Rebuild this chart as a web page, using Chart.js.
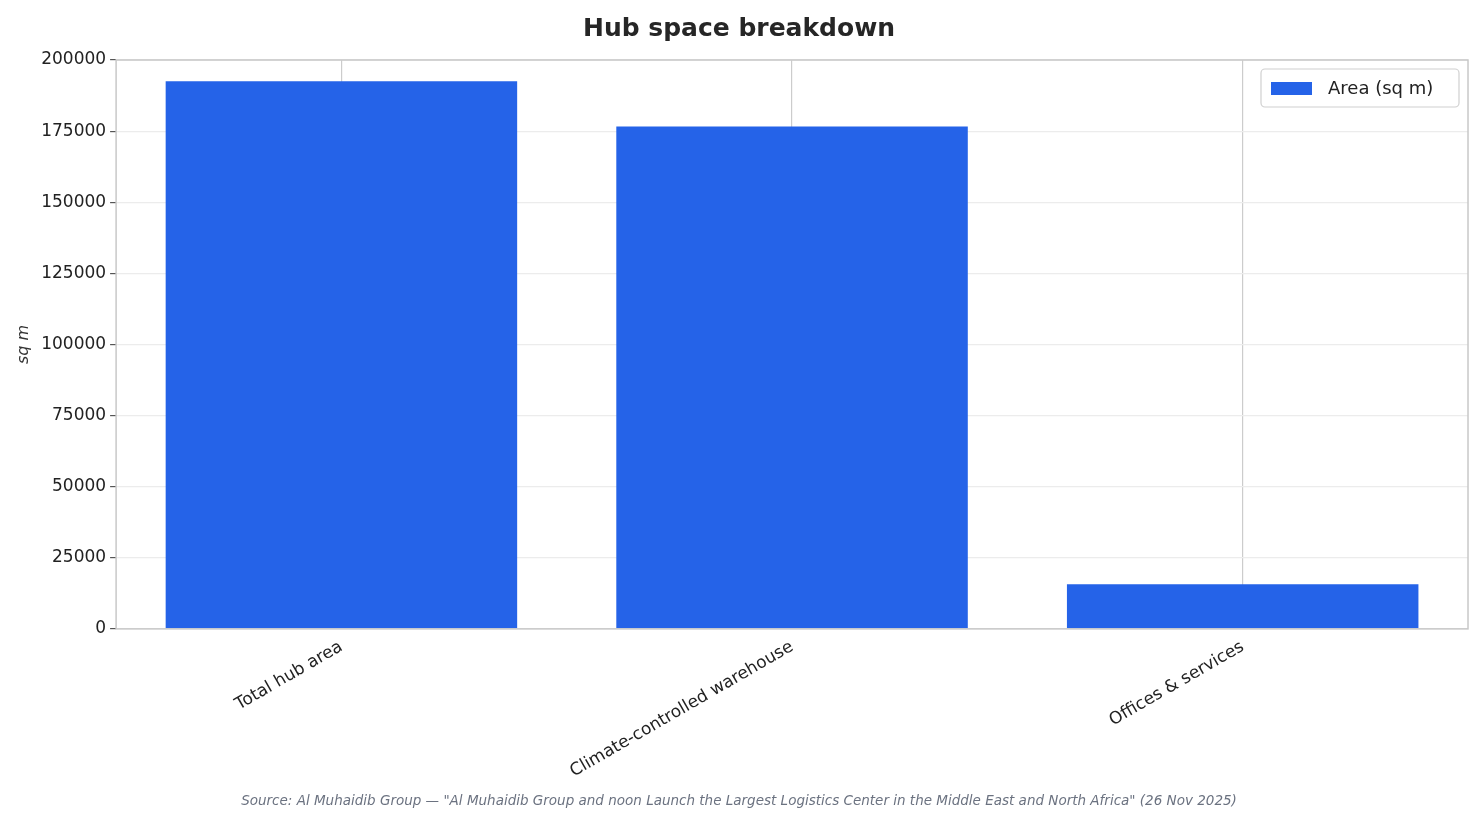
<!DOCTYPE html>
<html>
<head>
<meta charset="utf-8">
<script src="https://cdn.jsdelivr.net/npm/chart.js@4"></script>
<style>
  html, body { margin: 0; padding: 0; background: #fff; }
  #wrap { width: 1482px; height: 824px; }
</style>
</head>
<body>
<div id="wrap"><canvas id="myChart"></canvas></div>
<script>
const categories = ["Total hub area", "Climate-controlled warehouse", "Offices & services"];
const areaValues = [192500, 176600, 15700];
const yTicks = [0, 25000, 50000, 75000, 100000, 125000, 150000, 175000, 200000];
const seriesName = "Area (sq m)";
const sourceText = 'Source: Al Muhaidib Group — "Al Muhaidib Group and noon Launch the Largest Logistics Center in the Middle East and North Africa" (26 Nov 2025)';

const FONT = "'DejaVu Sans', sans-serif";
const BLUE = "#2563e8";

// draws the plot frame and the boxed legend inside the plot area
const framePlugin = {
    id: "frame",
    afterDraw(chart) {
        const ctx = chart.ctx;
        const a = chart.chartArea;
        ctx.save();
        ctx.strokeStyle = "#c8c8c8";
        ctx.lineWidth = 1.5;
        ctx.strokeRect(a.left, a.top, a.right - a.left, a.bottom - a.top);

        const w = 198, h = 38;
        const x = a.right - w - 9, y = a.top + 9;
        ctx.fillStyle = "rgba(255,255,255,0.9)";
        ctx.strokeStyle = "#d0d0d0";
        ctx.lineWidth = 1.2;
        ctx.beginPath();
        ctx.roundRect(x, y, w, h, 4);
        ctx.fill();
        ctx.stroke();
        ctx.fillStyle = BLUE;
        ctx.fillRect(x + 10, y + 13, 41, 13);
        ctx.fillStyle = "#222";
        ctx.font = "18px " + FONT;
        ctx.textBaseline = "middle";
        ctx.fillText(seriesName, x + 67, y + 20);
        ctx.restore();
    }
};

const config = {
    type: "bar",
    data: {
        labels: categories,
        datasets: [{
            label: seriesName,
            data: areaValues,
            backgroundColor: BLUE,
            barPercentage: 0.78,
            categoryPercentage: 1.0,
        }],
    },
    options: {
        responsive: true,
        maintainAspectRatio: false,
        animation: false,
        layout: { padding: { left: 10, right: 14, top: 4, bottom: 6 } },
        plugins: {
            legend: { display: false },
            title: {
                display: true,
                text: "Hub space breakdown",
                color: "#262626",
                font: { family: FONT, size: 25, weight: "bold" },
                padding: { top: 10, bottom: 16 },
            },
            subtitle: {
                display: true,
                position: "bottom",
                text: sourceText,
                color: "#6b7280",
                font: { family: FONT, size: 13.5, style: "italic" },
                padding: { top: 4, bottom: 8 },
            },
        },
        scales: {
            x: {
                grid: { display: true, color: "#cccccc", lineWidth: 1.2, offset: false, drawTicks: false },
                border: { display: false },
                ticks: {
                    color: "#222",
                    font: { family: FONT, size: 17 },
                    maxRotation: 30,
                    minRotation: 30,
                    padding: 8,
                },
            },
            y: {
                min: 0,
                max: 200000,
                afterBuildTicks: function(axis) {
                    axis.ticks = yTicks.map(function(v) { return { value: v }; });
                },
                grid: { color: "#ececec", lineWidth: 1.2, drawTicks: true, tickLength: 6, tickColor: "#555" },
                border: { display: false },
                ticks: {
                    color: "#222",
                    font: { family: FONT, size: 17 },
                    padding: 4,
                    callback: function(v) { return String(v); },
                },
                title: {
                    display: true,
                    text: "sq m",
                    color: "#333",
                    font: { family: FONT, size: 16, style: "italic" },
                },
            },
        },
    },
    plugins: [framePlugin],
};

const myChart = new Chart(document.getElementById("myChart"), config);
</script>
</body>
</html>
